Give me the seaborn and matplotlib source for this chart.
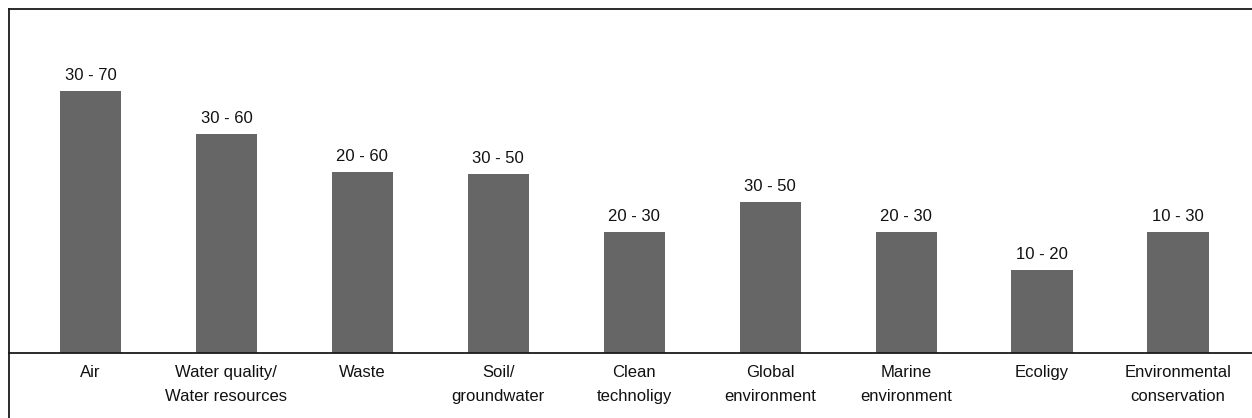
import matplotlib
matplotlib.use("Agg")
import matplotlib.pyplot as plt
from matplotlib.lines import Line2D
import seaborn as sns

# Research fields, the range stated above each bar, and the bar heights
categories = [
    "Air",
    "Water quality/\nWater resources",
    "Waste",
    "Soil/\ngroundwater",
    "Clean\ntechnoligy",
    "Global\nenvironment",
    "Marine\nenvironment",
    "Ecoligy",
    "Environmental\nconservation",
]
range_labels = ["30 - 70", "30 - 60", "20 - 60", "30 - 50", "20 - 30",
                "30 - 50", "20 - 30", "10 - 20", "10 - 30"]
heights = [65.5, 54.8, 45.3, 44.8, 30.3, 37.8, 30.3, 20.8, 30.3]

sns.set_theme(style="white")
plt.rcParams["font.family"] = ["Liberation Sans", "DejaVu Sans"]

W, H = 1252, 418
fig = plt.figure(figsize=(W / 100, H / 100), dpi=100)

left_px, top_px, base_px, right_px = 9, 9, 353, 1280
ax = fig.add_axes([left_px / W, (H - base_px) / H,
                   (right_px - left_px) / W, (base_px - top_px) / H])

sns.barplot(x=categories, y=heights, color="#666666", saturation=1,
            width=0.45, linewidth=0, ax=ax)

ax.set_xlim(-0.599, 8.75)
ax.set_ylim(0, 86)

for i, (h, lab) in enumerate(zip(heights, range_labels)):
    ax.annotate(lab, (i, h), xytext=(0, 5.5), textcoords="offset points",
                ha="center", va="bottom", fontsize=12, color="#111111")

ax.set_yticks([])
ax.tick_params(axis="x", length=0, pad=8.5, labelsize=12, labelcolor="#111111")
for t in ax.get_xticklabels():
    t.set_linespacing(1.75)
    t.set_va("top")
ax.set_xlabel("")
ax.set_ylabel("")

for side in ("left", "top", "bottom"):
    ax.spines[side].set_visible(True)
    ax.spines[side].set_color("#1a1a1a")
    ax.spines[side].set_linewidth(1.3)
ax.spines["right"].set_visible(False)

# Outer frame continues down past the baseline on the left
fig.add_artist(Line2D([left_px / W, left_px / W], [0, (H - base_px) / H],
                      transform=fig.transFigure, color="#1a1a1a", lw=1.3))

fig.savefig("out.png", dpi=100)
